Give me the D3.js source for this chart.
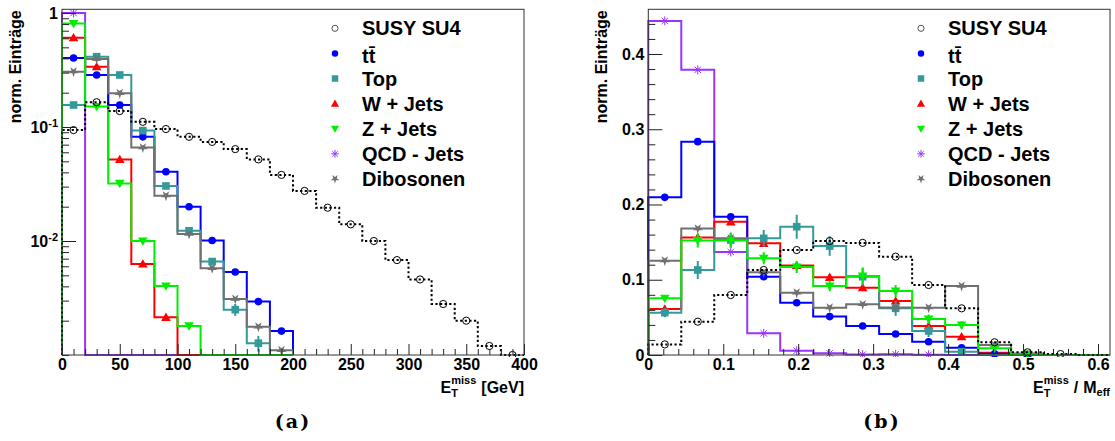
<!DOCTYPE html>
<html>
<head>
<meta charset="utf-8">
<script src="https://cdn.jsdelivr.net/npm/d3@7"></script>
<style>
  html, body { margin: 0; padding: 0; background: #fff; }
  svg { display: block; }
  text { font-family: "Liberation Sans", Arial, sans-serif; font-weight: bold; fill: #000; }
  .caption { font-family: "DejaVu Serif", "Liberation Serif", serif; font-weight: bold; }
</style>
</head>
<body>
<svg id="chart" width="1115" height="441"></svg>
<script>
// ---------------- data ----------------
const seriesLabels = ["SUSY SU4", "tt\u0304", "Top", "W + Jets", "Z + Jets", "QCD - Jets", "Dibosonen"];

// (a) missing transverse energy, 20 GeV bins, normalised to unit area
const metBinWidth = 20;
const metSusy  = [0.094, 0.165, 0.138, 0.111, 0.096, 0.082, 0.074, 0.064, 0.052, 0.038,
                  0.0275, 0.0196, 0.014, 0.010, 0.0068, 0.0046, 0.0028, 0.0020, 0.0012, 0.0010];
const metTtbar = [0.403, 0.286, 0.156, 0.082, 0.0405, 0.020, 0.0101, 0.00535, 0.00294, 0.00162];
const metTop   = [0.156, 0.414, 0.286, 0.093, 0.0304, 0.0123, 0.0066, 0.0025, 0.00127, 0];
const metTopErr = [0.003, 0.008, 0.006, 0.003, 0.0015, 0.0008, 0.0005, 0.0003, 0.0002, 0];
const metWjets = [0.607, 0.338, 0.052, 0.0063, 0.00214, 0, 0, 0, 0, 0];
const metZjets = [0.81, 0.151, 0.032, 0.010, 0.00403, 0.0018, 0, 0, 0, 0];
const metQcd   = [1.0, 0, 0, 0, 0, 0, 0, 0, 0, 0];
const metDibos = [0.306, 0.395, 0.198, 0.066, 0.025, 0.0115, 0.00576, 0.0031, 0.00177, 0.0011];
const metTicksX = [0, 50, 100, 150, 200, 250, 300, 350, 400];
const metTicksY = [1, 0.1, 0.01];

// (b) missing transverse energy over effective mass, 14 bins
const ratioBinWidth = 0.044;
const ratioSusy  = [0.0141, 0.0443, 0.0797, 0.113, 0.1395, 0.1515, 0.149, 0.1307, 0.093, 0.062, 0.0169, 0.0036, 0.0013, 0];
const ratioTtbar = [0.2095, 0.2835, 0.1838, 0.104, 0.0695, 0.051, 0.0385, 0.0279, 0.0177, 0.0097, 0.0015, 0.0004, 0, 0];
const ratioTop   = [0.0563, 0.113, 0.1528, 0.155, 0.1705, 0.1448, 0.104, 0.062, 0.0319, 0.0044, 0, 0, 0, 0];
const ratioTopErr = [0.006, 0.012, 0.010, 0.011, 0.016, 0.013, 0.012, 0.010, 0.008, 0.004, 0, 0, 0, 0];
const ratioWjets = [0.0611, 0.156, 0.177, 0.1484, 0.119, 0.1032, 0.0894, 0.0718, 0.0385, 0.0243, 0.003, 0.0008, 0, 0];
const ratioWjetsErr = [0.003, 0.004, 0.004, 0.004, 0.004, 0.004, 0.004, 0.003, 0.003, 0.002, 0.001, 0, 0, 0];
const ratioZjets = [0.0753, 0.152, 0.152, 0.1285, 0.117, 0.0917, 0.105, 0.085, 0.0478, 0.0399, 0.0089, 0.001, 0, 0];
const ratioZjetsErr = [0.004, 0.009, 0.009, 0.008, 0.008, 0.007, 0.011, 0.008, 0.006, 0.005, 0.003, 0, 0, 0];
const ratioQcd   = [0.444, 0.379, 0.137, 0.0288, 0.0057, 0.0022, 0.0005, 0.001, 0.0003, 0, 0, 0, 0, 0];
const ratioDibos = [0.1254, 0.168, 0.155, 0.11, 0.0828, 0.0629, 0.0673, 0.063, 0.0629, 0.0917, 0.0133, 0.002, 0, 0];
const ratioTicksX = [0, 0.1, 0.2, 0.3, 0.4, 0.5, 0.6];
const ratioTicksY = [0, 0.1, 0.2, 0.3, 0.4];

// ---------------- styles per sample ----------------
const styles = {
  susy:  { color: "#000000", marker: "open",   dash: "2.2,2.4" },
  ttbar: { color: "#0000ff", marker: "circle" },
  top:   { color: "#339999", marker: "square" },
  wjets: { color: "#ff0000", marker: "up" },
  zjets: { color: "#00ee00", marker: "down" },
  qcd:   { color: "#9933ff", marker: "ast" },
  dibos: { color: "#707070", marker: "star" }
};
const legendKeys = ["susy", "ttbar", "top", "wjets", "zjets", "qcd", "dibos"];

const svg = d3.select("#chart");

// ---------------- marker drawing ----------------
function drawMarker(g, kind, color, x, y, s) {
  switch (kind) {
    case "open":
      g.append("circle").attr("cx", x).attr("cy", y).attr("r", 3.6 * s)
        .attr("fill", "none").attr("stroke", s < 1 ? "#555" : "#000").attr("stroke-width", 1);
      break;
    case "circle":
      g.append("circle").attr("cx", x).attr("cy", y).attr("r", 3.8 * s).attr("fill", color);
      break;
    case "square":
      g.append("rect").attr("x", x - 3.8 * s).attr("y", y - 3.8 * s)
        .attr("width", 7.6 * s).attr("height", 7.6 * s).attr("fill", color);
      break;
    case "up":
      g.append("path").attr("d", d3.symbol(d3.symbolTriangle, 40 * s * s)())
        .attr("transform", `translate(${x},${y + 0.8 * s})`).attr("fill", color);
      break;
    case "down":
      g.append("path").attr("d", d3.symbol(d3.symbolTriangle, 40 * s * s)())
        .attr("transform", `translate(${x},${y - 0.8 * s}) rotate(180)`).attr("fill", color);
      break;
    case "ast": {
      const r = 4.5 * s;
      const a = g.append("g").attr("stroke", color).attr("stroke-width", 1);
      [0, 45, 90, 135].forEach(deg => {
        const t = deg * Math.PI / 180;
        a.append("line").attr("x1", x - r * Math.cos(t)).attr("y1", y - r * Math.sin(t))
          .attr("x2", x + r * Math.cos(t)).attr("y2", y + r * Math.sin(t));
      });
      break;
    }
    case "star":
      g.append("path").attr("d", d3.symbol(d3.symbolStar, 34 * s * s)())
        .attr("transform", `translate(${x},${y}) rotate(180)`).attr("fill", color);
      break;
  }
}

// ---------------- one histogram panel ----------------
function drawPanel(cfg) {
  const { x, y, yFloor, left, right, top, bottom } = cfg;
  const g = svg.append("g");
  const clipId = cfg.id + "-clip";
  svg.append("clipPath").attr("id", clipId).append("rect")
    .attr("x", left - 2).attr("y", top).attr("width", right - left + 4).attr("height", bottom - top + 2);

  const yPix = v => (v > yFloor ? y(v) : y(yFloor));
  const line = d3.line().x(d => x(d[0])).y(d => yPix(d[1]));

  const plot = g.append("g").attr("clip-path", `url(#${clipId})`);
  cfg.order.forEach(key => {
    const s = cfg.series[key];
    const st = styles[key];
    const w = cfg.binWidth;
    const pts = [[0, yFloor]];
    s.values.forEach((v, i) => { pts.push([i * w, v]); pts.push([(i + 1) * w, v]); });
    pts.push([s.values.length * w, yFloor]);
    plot.append("path").attr("d", line(pts)).attr("fill", "none")
      .attr("stroke", st.color).attr("stroke-width", 2)
      .attr("stroke-dasharray", st.dash || null);
    const mg = plot.append("g");
    s.values.forEach((v, i) => {
      if (!(v > 0)) return;
      const cx = x((i + 0.5) * w);
      if (s.err && s.err[i] > 0) {
        const lo = Math.max(v - s.err[i], yFloor);
        mg.append("line").attr("x1", cx).attr("x2", cx)
          .attr("y1", yPix(lo)).attr("y2", yPix(v + s.err[i]))
          .attr("stroke", st.color).attr("stroke-width", 2);
      }
      drawMarker(mg, st.marker, st.color, cx, yPix(v), 1);
    });
  });

  // axes, ticks drawn inward
  const ax = g.append("g").attr("transform", `translate(0,${bottom})`)
    .call(d3.axisBottom(x).tickValues(cfg.ticksX).tickSize(-11).tickPadding(4).tickFormat(cfg.fmtX));
  const axm = g.append("g").attr("transform", `translate(0,${bottom})`)
    .call(d3.axisBottom(x).tickValues(cfg.minorX).tickSize(-6).tickFormat(""));
  const ay = g.append("g").attr("transform", `translate(${left},0)`)
    .call(d3.axisLeft(y).tickValues(cfg.ticksY).tickSize(-14).tickPadding(4).tickFormat(cfg.fmtY));
  const aym = g.append("g").attr("transform", `translate(${left},0)`)
    .call(d3.axisLeft(y).tickValues(cfg.minorY).tickSize(-7).tickFormat(""));
  [ax, axm, ay, aym].forEach(a => {
    a.select(".domain").remove();
    a.selectAll("line").attr("stroke", "#222");
    a.selectAll("text").attr("font-size", 16).attr("font-family", null).attr("fill", "#000");
  });
  if (cfg.logLabels) {
    ay.selectAll("text").each(function (d) {
      const t = d3.select(this);
      const e = Math.round(Math.log10(d));
      if (e === 0) { t.text("1"); return; }
      t.text("");
      t.append("tspan").text("10");
      t.append("tspan").attr("font-size", 11).attr("dy", "-0.55em").text(String(e));
    });
  }

  // frame
  g.append("rect").attr("x", left).attr("y", top).attr("width", right - left).attr("height", bottom - top)
    .attr("fill", "none").attr("stroke", "#333").attr("stroke-width", 1);

  // y title
  g.append("text").attr("transform", `translate(${left - 41.5},${top + 1}) rotate(-90)`)
    .attr("text-anchor", "end").attr("font-size", 16).text("norm. Eintr\u00e4ge");

  // x title built from pieces (main, super/subscripts)
  const tg = g.append("g");
  let cx = 0;
  const base = 392.5;
  cfg.xTitle.forEach(p => {
    if (p.gap) { cx += p.gap; return; }
    if (p.stack) {
      let w = 0;
      p.stack.forEach(q => {
        const t = tg.append("text").attr("x", cx).attr("y", base + q.dy).attr("font-size", 11).text(q.t);
        w = Math.max(w, t.node().getComputedTextLength());
      });
      cx += w;
      return;
    }
    const t = tg.append("text").attr("x", cx).attr("y", base + (p.dy || 0))
      .attr("font-size", p.size || 16).text(p.t);
    cx += t.node().getComputedTextLength();
  });
  tg.attr("transform", `translate(${right - cx},0)`);

  // legend
  const lg = g.append("g");
  legendKeys.forEach((key, i) => {
    const ry = top + 19 + i * 25.1;
    drawMarker(lg, styles[key].marker, styles[key].color, right - 189, ry, 0.85);
    lg.append("text").attr("x", right - 162).attr("y", ry + (key === "ttbar" ? 9.5 : 7))
      .attr("font-size", 20).text(seriesLabels[i]);
  });

  // caption
  svg.append("text").attr("class", "caption").attr("x", cfg.captionX).attr("y", 428)
    .attr("text-anchor", "middle").attr("font-size", 19).attr("letter-spacing", 2)
    .text(cfg.caption);
}

// ---------------- panel (a) ----------------
const xA = d3.scaleLinear().domain([0, 400]).range([62, 524]);
const yA = d3.scaleLog().domain([0.001, 1.078]).range([355, 9.3]);
drawPanel({
  id: "met", x: xA, y: yA, yFloor: 0.001, left: 62, right: 524, top: 9.3, bottom: 355,
  binWidth: metBinWidth,
  series: {
    susy: { values: metSusy }, ttbar: { values: metTtbar }, top: { values: metTop, err: metTopErr },
    wjets: { values: metWjets }, zjets: { values: metZjets }, qcd: { values: metQcd }, dibos: { values: metDibos }
  },
  order: ["qcd", "wjets", "ttbar", "top", "dibos", "zjets", "susy"],
  ticksX: metTicksX, minorX: d3.range(0, 401, 10).filter(v => v % 50 !== 0),
  ticksY: metTicksY, minorY: yA.ticks().filter(v => !metTicksY.some(m => Math.abs(m - v) < 1e-12)),
  fmtX: d3.format("d"), fmtY: d => d, logLabels: true,
  xTitle: [{ t: "E" }, { stack: [{ t: "miss", dy: -8.5 }, { t: "T", dy: 4 }] }, { gap: 5 }, { t: "[GeV]" }],
  caption: "(a)", captionX: 293
});

// ---------------- panel (b) ----------------
const xB = d3.scaleLinear().domain([0, 0.616]).range([648.3, 1110]);
const yB = d3.scaleLinear().domain([0, 0.4594]).range([355, 9.3]);
drawPanel({
  id: "ratio", x: xB, y: yB, yFloor: 0, left: 648.3, right: 1110, top: 9.3, bottom: 355,
  binWidth: ratioBinWidth,
  series: {
    susy: { values: ratioSusy }, ttbar: { values: ratioTtbar }, top: { values: ratioTop, err: ratioTopErr },
    wjets: { values: ratioWjets, err: ratioWjetsErr }, zjets: { values: ratioZjets, err: ratioZjetsErr },
    qcd: { values: ratioQcd }, dibos: { values: ratioDibos }
  },
  order: ["qcd", "wjets", "ttbar", "top", "dibos", "zjets", "susy"],
  ticksX: ratioTicksX, minorX: d3.range(0, 31).map(i => i * 0.02).filter(v => v <= 0.616 && Math.abs(v * 10 - Math.round(v * 10)) > 1e-6),
  ticksY: ratioTicksY, minorY: d3.range(0, 23).map(i => i * 0.02).filter(v => v <= 0.4594 && Math.abs(v * 10 - Math.round(v * 10)) > 1e-6),
  fmtX: d => (d === 0 ? "0" : d3.format(".1f")(d)), fmtY: d => (d === 0 ? "0" : d3.format(".1f")(d)),
  logLabels: false,
  xTitle: [{ t: "E" }, { stack: [{ t: "miss", dy: -8.5 }, { t: "T", dy: 4 }] }, { gap: 5 }, { t: "/" }, { gap: 5 },
           { t: "M" }, { stack: [{ t: "eff", dy: 3 }] }],
  caption: "(b)", captionX: 882
});
</script>
</body>
</html>
